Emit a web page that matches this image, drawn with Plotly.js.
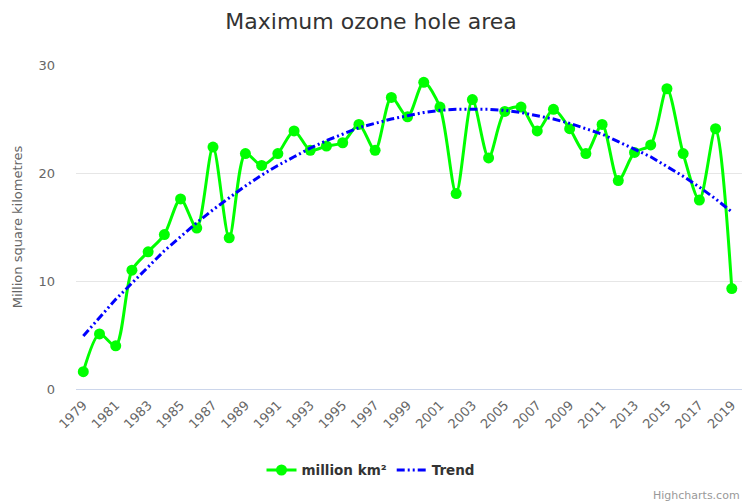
<!DOCTYPE html>
<html>
<head>
<meta charset="utf-8">
<script src="https://cdn.plot.ly/plotly-3.0.1.min.js"></script>
<style>html,body{margin:0;padding:0;background:#fff;}#chart{width:742px;height:504px;}</style>
</head>
<body>
<div id="chart"></div>
<script>
const years = [1979,1980,1981,1982,1983,1984,1985,1986,1987,1988,1989,1990,1991,1992,1993,1994,1995,1996,1997,1998,1999,2000,2001,2002,2003,2004,2005,2006,2007,2008,2009,2010,2011,2012,2013,2014,2015,2016,2017,2018,2019];
const area = [1.6,5.1,4.0,11.0,12.7,14.3,17.6,14.9,22.4,14.0,21.8,20.7,21.8,23.9,22.1,22.5,22.8,24.5,22.1,27.0,25.2,28.4,26.1,18.1,26.8,21.4,25.7,26.1,23.9,25.9,24.1,21.8,24.5,19.3,21.9,22.6,27.8,21.8,17.5,24.1,9.3];
const trend = [4.9,6.6,8.3,9.8,11.3,12.8,14.1,15.4,16.6,17.7,18.8,19.8,20.7,21.5,22.3,23.0,23.6,24.2,24.6,25.0,25.3,25.6,25.8,25.9,25.9,25.9,25.8,25.6,25.3,25.0,24.6,24.1,23.6,22.9,22.2,21.5,20.6,19.7,18.7,17.6,16.4];
const tickYears = [1979,1981,1983,1985,1987,1989,1991,1993,1995,1997,1999,2001,2003,2005,2007,2009,2011,2013,2015,2017,2019];

const font = "DejaVu Sans, Verdana, sans-serif";
const data = [
  {x: years, y: area, name: 'million km²', type: 'scatter', mode: 'lines+markers',
   line: {color: '#00ff00', width: 3, shape: 'spline', smoothing: 0.8},
   marker: {color: '#00ff00', size: 11}},
  {x: years, y: trend, name: 'Trend', type: 'scatter', mode: 'lines',
   line: {color: '#0000ff', width: 3, dash: '8px,3px,2px,3px,2px,3px'}}
];
const layout = {
  width: 742, height: 504,
  margin: {l: 76, r: 0, t: 65, b: 114.5},
  paper_bgcolor: '#fff', plot_bgcolor: '#fff',
  font: {family: font, color: '#666'},
  title: {text: 'Maximum ozone hole area', font: {family: font, size: 22, color: '#333'},
          x: 0.5, xref: 'container', xanchor: 'center', y: 0.958, yref: 'container', yanchor: 'middle'},
  showlegend: true,
  legend: {orientation: 'h', xref: 'container', yref: 'container', x: 0.5, xanchor: 'center',
           y: 0.067, yanchor: 'middle', font: {family: font, size: 13.5, color: '#333', weight: 'bold'}, itemwidth: 30},
  xaxis: {range: [1978.55, 2019.63], tickmode: 'array', tickvals: tickYears, ticktext: tickYears.map(String),
          tickangle: -45, tickfont: {family: font, size: 13, color: '#666'}, showgrid: false, zeroline: false,
          showline: false, ticks: '', ticklabelstandoff: 5, fixedrange: true},
  yaxis: {range: [0, 30], tickvals: [0, 10, 20, 30], tickfont: {family: font, size: 13, color: '#666'},
          gridcolor: '#e6e6e6', gridwidth: 1, zeroline: true, zerolinecolor: '#ccd6eb', zerolinewidth: 1,
          ticklabelstandoff: 20,
          title: {text: 'Million square kilometres', font: {family: font, size: 13, color: '#666'}, standoff: 12}},
  annotations: [{text: 'Highcharts.com', xref: 'paper', yref: 'paper', x: 1, y: -0.328,
                 xanchor: 'right', yanchor: 'middle', showarrow: false, font: {family: font, size: 11, color: '#999'}}]
};
Plotly.newPlot('chart', data, layout, {displayModeBar: false, staticPlot: true});
</script>
</body>
</html>
